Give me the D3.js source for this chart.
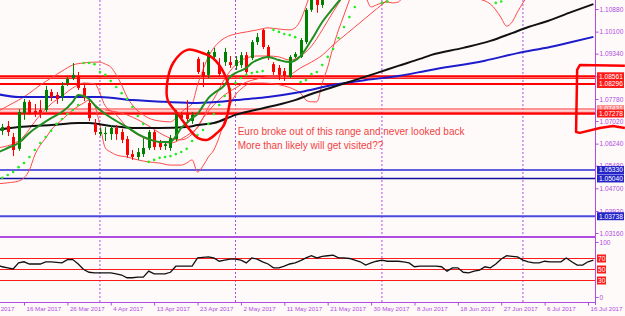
<!DOCTYPE html>
<html>
<head>
<meta charset="utf-8">
<script src="https://cdn.jsdelivr.net/npm/d3@7"></script>
<style>
  body { margin: 0; background: #fffafa; }
  svg { display: block; }
  text { font-family: "Liberation Sans", Arial, sans-serif; }
</style>
</head>
<body>
<div class="chart"></div>
<script>
// EURUSD daily, bar index 0 = 10 Mar 2017 (one bar per day, Saturdays skipped)
// [open, high, low, close]
const candles = [
  [1.0664, 1.0699, 1.0657, 1.0685], [1.0668, 1.0692, 1.0654, 1.0681], [1.0685, 1.0702, 1.0650, 1.0664],
  [1.0647, 1.0661, 1.0581, 1.0602], [1.0606, 1.0743, 1.0599, 1.0733], [1.0730, 1.0778, 1.0706, 1.0768],
  [1.0768, 1.0774, 1.0723, 1.0730], [1.0737, 1.0761, 1.0716, 1.0730], [1.0740, 1.0774, 1.0712, 1.0730],
  [1.0740, 1.0823, 1.0733, 1.0809], [1.0802, 1.0812, 1.0771, 1.0785], [1.0792, 1.0802, 1.0761, 1.0778],
  [1.0785, 1.0836, 1.0771, 1.0823], [1.0833, 1.0854, 1.0823, 1.0847], [1.0850, 1.0902, 1.0843, 1.0861],
  [1.0857, 1.0871, 1.0809, 1.0816], [1.0816, 1.0826, 1.0771, 1.0781], [1.0764, 1.0774, 1.0702, 1.0712],
  [1.0692, 1.0709, 1.0654, 1.0664], [1.0657, 1.0678, 1.0650, 1.0664], [1.0657, 1.0681, 1.0633, 1.0661],
  [1.0657, 1.0688, 1.0637, 1.0678], [1.0678, 1.0688, 1.0637, 1.0657], [1.0664, 1.0675, 1.0626, 1.0637],
  [1.0640, 1.0650, 1.0575, 1.0585], [1.0588, 1.0602, 1.0568, 1.0578], [1.0578, 1.0609, 1.0568, 1.0595],
  [1.0588, 1.0643, 1.0578, 1.0609], [1.0609, 1.0671, 1.0602, 1.0664], [1.0664, 1.0671, 1.0602, 1.0612],
  [1.0626, 1.0637, 1.0602, 1.0612], [1.0616, 1.0633, 1.0602, 1.0622], [1.0609, 1.0654, 1.0599, 1.0643],
  [1.0640, 1.0740, 1.0633, 1.0730], [1.0723, 1.0733, 1.0702, 1.0712], [1.0726, 1.0774, 1.0699, 1.0709],
  [1.0702, 1.0733, 1.0692, 1.0723], [1.0916, 1.0923, 1.0864, 1.0871], [1.0871, 1.0905, 1.0819, 1.0854],
  [1.0861, 1.0947, 1.0850, 1.0940], [1.0923, 1.0954, 1.0912, 1.0940], [1.0892, 1.0919, 1.0854, 1.0864],
  [1.0905, 1.0954, 1.0892, 1.0940], [1.0905, 1.0926, 1.0885, 1.0895], [1.0892, 1.0926, 1.0878, 1.0912],
  [1.0895, 1.0940, 1.0885, 1.0929], [1.0929, 1.0940, 1.0864, 1.0871], [1.0919, 1.0981, 1.0912, 1.0974],
  [1.0974, 1.1005, 1.0964, 1.0991], [1.1016, 1.1019, 1.0950, 1.0957], [1.0957, 1.0964, 1.0912, 1.0919],
  [1.0898, 1.0905, 1.0861, 1.0871], [1.0885, 1.0895, 1.0843, 1.0861], [1.0874, 1.0885, 1.0840, 1.0857],
  [1.0854, 1.0929, 1.0850, 1.0923], [1.0923, 1.0940, 1.0919, 1.0933], [1.0923, 1.0988, 1.0919, 1.0981],
  [1.0974, 1.1091, 1.0967, 1.1085], [1.1085, 1.1153, 1.1078, 1.1136], [1.1160, 1.1175, 1.1075, 1.1102],
  [1.1102, 1.1212, 1.1092, 1.1207]
];

// moving averages, read at [bar, price]
const maGreen = [[0,1.0592],[2,1.0609],[4,1.0626],[6,1.0661],[8,1.0688],[10,1.0712],[12,1.0733],[14,1.0768],
  [15,1.0792],[16,1.0788],[17,1.0778],[18,1.0757],[20,1.0726],[22,1.0702],[24,1.0681],[26,1.0657],[28,1.0640],
  [30,1.0630],[32,1.0630],[33,1.0650],[34,1.0678],[35,1.0695],[36,1.0712],[37,1.0726],[38,1.0754],[39,1.0781],
  [40,1.0798],[42,1.0826],[43,1.0854],[44,1.0867],[46,1.0885],[47,1.0902],[48,1.0912],[50,1.0923],[52,1.0912],
  [54,1.0905],[56,1.0926],[58,1.0981],[60,1.1043],[62,1.1091],[64,1.1136]];
const maBlack = [[0,1.0671],[4,1.0681],[10,1.0688],[15,1.0695],[17,1.0695],[21,1.0685],[25,1.0678],[30,1.0678],
  [35,1.0681],[37,1.0688],[40,1.0695],[44,1.0723],[50,1.0750],[55,1.0774],[58,1.0795],[62,1.0819],[66,1.0843],
  [70,1.0867],[74,1.0892],[78,1.0916],[80,1.0929],[86,1.0954],[91,1.0978],[95,1.1005],[98,1.1026],[101,1.1043],
  [106,1.1078],[110,1.1105]];
const maBlue = [[0,1.0795],[4,1.0785],[10,1.0785],[15,1.0785],[19,1.0785],[25,1.0774],[31,1.0768],[37,1.0764],
  [41,1.0768],[44,1.0774],[50,1.0785],[56,1.0802],[62,1.0826],[68,1.0843],[74,1.0857],[80,1.0878],[90,1.0910],
  [96,1.0936],[102,1.0957],[106,1.0974],[110,1.0992]];

// bollinger bands
const bbUpper = [[0,1.0733],[2,1.0754],[4,1.0774],[6,1.0798],[8,1.0826],[10,1.0850],[12,1.0874],[14,1.0895],
  [16,1.0902],[18,1.0905],[19,1.0905],[20,1.0898],[21,1.0888],[22,1.0861],[23,1.0826],[24,1.0785],[25,1.0757],
  [26,1.0737],[27,1.0723],[28,1.0712],[30,1.0702],[32,1.0699],[33,1.0712],[34,1.0733],[35,1.0747],[36,1.0761],
  [37,1.0826],[38,1.0878],[39,1.0923],[40,1.0954],[41,1.0974],[42,1.0988],[44,1.1002],[46,1.1009],[48,1.1016],
  [50,1.1023],[52,1.1019],[54,1.1016],[55,1.1023],[56,1.1050],[57,1.1098],[58,1.1153]];
const bbMiddle = [[0,1.0609],[4,1.0633],[8,1.0723],[10,1.0761],[12,1.0788],[14,1.0816],[16,1.0833],[18,1.0830],
  [20,1.0754],[22,1.0723],[24,1.0681],[26,1.0654],[28,1.0637],[30,1.0630],[32,1.0626],[34,1.0640],[36,1.0664],
  [37,1.0678],[38,1.0712],[39,1.0750],[40,1.0778],[42,1.0847],[44,1.0895],[46,1.0919],[48,1.0926],[50,1.0926],
  [52,1.0923],[54,1.0912],[56,1.0926],[58,1.0960],[60,1.1016],[62,1.1078],[64,1.1136]];
const bbLower = [[0,1.0485],[2,1.0489],[4,1.0495],[5,1.0506],[6,1.0533],[7,1.0585],[8,1.0619],[9,1.0643],
  [10,1.0671],[12,1.0706],[14,1.0740],[16,1.0764],[17,1.0774],[18,1.0757],[19,1.0688],[20,1.0609],[21,1.0595],
  [22,1.0585],[24,1.0578],[26,1.0568],[28,1.0561],[30,1.0557],[32,1.0550],[34,1.0550],[35,1.0557],[36,1.0568],
  [37,1.0526],[38,1.0547],[39,1.0578],[40,1.0602],[41,1.0647],[42,1.0706],[43,1.0757],[44,1.0792],[45,1.0812],
  [46,1.0826],[47,1.0833],[49,1.0833],[51,1.0830],[53,1.0823],[55,1.0809],[56,1.0798],[57,1.0774],[58,1.0768],
  [59,1.0768],[60,1.0833],[61,1.0888],[62,1.0957],[63,1.1016],[64,1.1067],[65,1.1119],[66,1.1171]];
const bbLower2 = [[68,1.1136],[69,1.1095],[70,1.1102],[71,1.1109],[72,1.1112],[73,1.1109],[74,1.1112],[75,1.1136]];
const bbLower3 = [[88,1.1136],[89,1.1122],[90,1.1116],[91,1.1105],[92,1.1085],[93,1.1057],[94,1.1029],
  [95,1.1043],[96,1.1078],[97,1.1109],[98,1.1136]];
const redMa = [[20,1.0740],[24,1.0723],[28,1.0685],[30,1.0661],[32,1.0643],[34,1.0637],[36,1.0657],[38,1.0712],
  [40,1.0757],[42,1.0792],[44,1.0816],[46,1.0836],[48,1.0847],[50,1.0854],[52,1.0854],[54,1.0861],[56,1.0885],
  [58,1.0905],[60,1.0929],[62,1.0964],[64,1.0995],[66,1.1026],[68,1.1057],[70,1.1088],[72,1.1119],[73,1.1136]];

// parabolic SAR
const sar = [[0,1.0495],[1,1.0506],[2,1.0516],[3,1.0526],[4,1.0543],[5,1.0557],[6,1.0578],[7,1.0602],[8,1.0626],
  [9,1.0647],[10,1.0668],[11,1.0692],[12,1.0709],[13,1.0726],[14,1.0740],[15,1.0757],[16,1.0902],[17,1.0902],
  [18,1.0898],[19,1.0871],[20,1.0861],[21,1.0840],[22,1.0819],[23,1.0798],[24,1.0778],[25,1.0750],[26,1.0719],
  [27,1.0692],[28,1.0561],[29,1.0568],[30,1.0575],[31,1.0578],[32,1.0581],[33,1.0588],[34,1.0595],[35,1.0606],
  [36,1.0633],[37,1.0654],[38,1.0671],[39,1.0692],[40,1.0726],[41,1.0757],[42,1.0788],[43,1.0812],[44,1.0833],
  [45,1.0850],[46,1.0861],[47,1.0867],[48,1.0871],[49,1.0874],[51,1.1016],[52,1.1009],[53,1.1002],[54,1.0998],
  [55,1.0991],[56,1.0836],[57,1.0843],[58,1.0864],[59,1.0871],[60,1.0895],[61,1.0923],[62,1.0950],[63,1.0988],
  [64,1.1026],[65,1.1060],[66,1.1095],[71,1.1109],[72,1.1114],[92,1.1109],[93,1.1114]];

// RSI, one value per bar
const rsi = [58,55,53,51,62,64,60,60,60,64,64,63,62,68,68,60,50,45,44,44,44,44,42,40,35,35,36,36,47,42,
  42,42,45,56,56,56,56,71,72,73,71,65,67,69,69,67,62,71,69,64,60,53,53,56,60,62,66,71,75,71,
  74,75,76,71,71,70,67,64,58,62,65,67,65,65,65,64,62,55,56,56,56,56,55,47,53,53,45,44,47,49,
  55,53,60,69,75,74,73,67,64,62,62,65,64,64,64,71,64,58,58,64,67];
const rsiLevels = [70, 50, 30];

// horizontal levels
const levels = [
  { price: 1.08561, color: "#ff0000", width: 2, label: "1.08561", box: "#ff1a1a" },
  { price: 1.0849, color: "#ff2020", width: 1.5 },
  { price: 1.08296, color: "#ff0000", width: 2, label: "1.08296", box: "#ff1a1a" },
  { price: 1.07431, color: "#ff7070", width: 1.5, label: "1.07431", box: "#ff8a8a" },
  { price: 1.0736, color: "#ff9a9a", width: 1 },
  { price: 1.07278, color: "#ff0000", width: 2.5, label: "1.07278", box: "#ff1a1a" },
  { price: 1.05330, color: "#2b2bd6", width: 1.5, label: "1.05330", box: "#2424c8" },
  { price: 1.05040, color: "#10109e", width: 1.5, label: "1.05040", box: "#2424c8" },
  { price: 1.03738, color: "#4a4ae0", width: 2, label: "1.03738", box: "#2424c8" }
];

const priceTicks = [1.10880, 1.10100, 1.09340, 1.08560, 1.07780, 1.07020, 1.06240, 1.05480, 1.04700, 1.03920, 1.03160];
const dateTickBars = [-3, 5, 13, 21, 29, 37, 45, 53, 61, 69, 77, 85, 93, 101, 109];
const dateTickLabels = ["7 Mar 2017", "16 Mar 2017", "26 Mar 2017", "4 Apr 2017", "13 Apr 2017", "23 Apr 2017",
  "2 May 2017", "11 May 2017", "21 May 2017", "30 May 2017", "8 Jun 2017", "18 Jun 2017", "27 Jun 2017",
  "6 Jul 2017", "16 Jul 2017"];
const monthStartBars = [19, 44, 71, 97];

// hand drawn marks, [bar, price]
const circleMark = [[35.1,1.0947],[37.4,1.0940],[39.8,1.0919],[41.9,1.0866],[43.0,1.0792],[42.7,1.0740],
  [41.8,1.0685],[40.6,1.0661],[38.8,1.0637],[37.1,1.0643],[35.6,1.0671],[33.2,1.0730],[31.5,1.0774],
  [31.4,1.0833],[32.5,1.0902]];
const bracketMark = [[115.8,1.0892],[107.5,1.0895],[107.0,1.0878],[106.8,1.0664],[107.5,1.0661],[111.2,1.0678],
  [113.6,1.0685],[115.8,1.0678]];
const noteLines = ["Euro broke out of this range and never looked back", "More than likely will get visited??"];

const w = 625, h = 316;
const axisX = 595.5;
const mainBottom = 237, rsiBottom = 302;
const purple = "#b04ce0";

const x = d3.scaleLinear().domain([5, 109]).range([24, 588]);
const y = d3.scaleLinear().domain([1.0316, 1.1088]).range([233, 9]);
const yr = d3.scaleLinear().domain([0, 100]).range([297, 242]);

const svg = d3.select(".chart").append("svg")
  .attr("width", w).attr("height", h);

svg.append("rect").attr("width", w).attr("height", h).attr("fill", "#fffafa");

const defs = svg.append("defs");
defs.append("clipPath").attr("id", "clipMain")
  .append("rect").attr("x", 0).attr("y", 0).attr("width", axisX).attr("height", mainBottom);
defs.append("clipPath").attr("id", "clipRsi")
  .append("rect").attr("x", 0).attr("y", mainBottom + 1).attr("width", axisX).attr("height", rsiBottom - mainBottom - 1);

/* month separators */
svg.append("g").selectAll("line")
  .data(monthStartBars).enter().append("line")
  .attr("x1", d => x(d)).attr("x2", d => x(d))
  .attr("y1", 0).attr("y2", rsiBottom)
  .attr("stroke", purple).attr("stroke-width", 1)
  .attr("stroke-dasharray", "2,2");

const main = svg.append("g").attr("clip-path", "url(#clipMain)");

/* horizontal levels */
main.selectAll(".level")
  .data(levels).enter().append("line")
  .attr("x1", 0).attr("x2", axisX)
  .attr("y1", d => y(d.price)).attr("y2", d => y(d.price))
  .attr("stroke", d => d.color).attr("stroke-width", d => d.width);

/* bollinger bands */
const line = d3.line().x(d => x(d[0])).y(d => y(d[1])).curve(d3.curveMonotoneX);
[bbUpper, bbMiddle, bbLower, bbLower2, bbLower3, redMa].forEach(s => {
  main.append("path").attr("d", line(s))
    .attr("fill", "none").attr("stroke", "#ff4a4a").attr("stroke-width", 1);
});

/* moving averages */
main.append("path").attr("d", line(maBlue)).attr("fill", "none").attr("stroke", "#1c1ccc").attr("stroke-width", 2);
main.append("path").attr("d", line(maBlack)).attr("fill", "none").attr("stroke", "#111").attr("stroke-width", 2);

/* candles */
const bars = main.append("g").selectAll("g")
  .data(candles).enter().append("g");
bars.append("line")
  .attr("x1", (d, i) => Math.round(x(i)) + 0.5).attr("x2", (d, i) => Math.round(x(i)) + 0.5)
  .attr("y1", d => y(d[1])).attr("y2", d => y(d[2]))
  .attr("stroke", d => d[3] >= d[0] ? "#008000" : "#ff0000").attr("stroke-width", 1);
bars.append("rect")
  .attr("x", (d, i) => Math.round(x(i)) - 1)
  .attr("y", d => y(Math.max(d[0], d[3])))
  .attr("width", 3)
  .attr("height", d => Math.max(1, Math.abs(y(d[0]) - y(d[3]))))
  .attr("fill", d => d[3] >= d[0] ? "#008000" : "#ff0000");

main.append("path").attr("d", line(maGreen)).attr("fill", "none").attr("stroke", "#1f8f1f").attr("stroke-width", 2);

/* parabolic SAR */
main.selectAll(".sar")
  .data(sar).enter().append("circle")
  .attr("cx", d => x(d[0])).attr("cy", d => y(d[1])).attr("r", 1.3)
  .attr("fill", "#1fee1f");

/* hand drawn circle */
main.append("path")
  .attr("d", d3.line().x(d => x(d[0])).y(d => y(d[1])).curve(d3.curveCatmullRomClosed)(circleMark))
  .attr("fill", "none").attr("stroke", "#ff0000").attr("stroke-width", 2.5);

/* note */
svg.append("g").selectAll("text")
  .data(noteLines).enter().append("text")
  .attr("x", x(44.4)).attr("y", (d, i) => y(1.0654) + i * 14)
  .attr("fill", "#f04444")
  .attr("font-size", 10)
  .text(d => d);

/* separator between windows */
svg.append("line").attr("x1", 0).attr("x2", axisX).attr("y1", mainBottom).attr("y2", mainBottom)
  .attr("stroke", purple).attr("stroke-width", 2);

/* RSI window */
const rsiG = svg.append("g").attr("clip-path", "url(#clipRsi)");
rsiG.selectAll(".lvl").data(rsiLevels).enter().append("line")
  .attr("x1", 0).attr("x2", axisX)
  .attr("y1", d => yr(d)).attr("y2", d => yr(d))
  .attr("stroke", "#ff1a1a").attr("stroke-width", 1);
rsiG.append("path")
  .attr("d", d3.line().x((d, i) => x(i)).y(d => yr(d))(rsi))
  .attr("fill", "none").attr("stroke", "#111").attr("stroke-width", 1.3);

/* axes */
svg.append("line").attr("x1", axisX).attr("x2", axisX).attr("y1", 0).attr("y2", rsiBottom + 3)
  .attr("stroke", purple);
svg.append("line").attr("x1", 0).attr("x2", axisX).attr("y1", rsiBottom + 0.5).attr("y2", rsiBottom + 0.5)
  .attr("stroke", purple);

const yAxis = d3.axisRight(y).tickValues(priceTicks).tickSize(3).tickFormat(d => d.toFixed(5));
const ga = svg.append("g").attr("transform", "translate(" + axisX + ",0)").call(yAxis);
ga.select(".domain").remove();

const rAxis = d3.axisRight(yr).tickValues([0, 100]).tickSize(3).tickFormat(d3.format("d"));
const gr = svg.append("g").attr("transform", "translate(" + axisX + ",0)").call(rAxis);
gr.select(".domain").remove();

const xAxis = d3.axisBottom(x).tickValues(dateTickBars).tickSize(3)
  .tickFormat((d, i) => dateTickLabels[i]);
const gx = svg.append("g").attr("transform", "translate(0," + (rsiBottom + 0.5) + ")").call(xAxis);
gx.select(".domain").remove();
gx.selectAll("text").attr("text-anchor", "start").attr("dx", 2).attr("y", 4.5);

svg.selectAll(".tick line").attr("stroke", purple);
svg.selectAll(".tick text").attr("fill", purple)
  .style("font-family", "'Liberation Sans', Arial, sans-serif");
ga.selectAll("text").attr("x", 4).attr("font-size", 6.6);
gr.selectAll("text").attr("x", 4).attr("font-size", 6.6);
gx.selectAll("text").attr("font-size", 6.2);

/* price labels of levels */
const tags = svg.append("g").selectAll("g")
  .data(levels.filter(d => d.label)).enter().append("g");
tags.append("rect")
  .attr("x", axisX + 1.5).attr("y", d => y(d.price) - 4)
  .attr("width", 27).attr("height", 8).attr("fill", d => d.box);
tags.append("text")
  .attr("x", axisX + 3.5).attr("y", d => y(d.price)).attr("dy", "0.35em")
  .attr("fill", "#fff").attr("font-size", 6.6).text(d => d.label);

const rtags = svg.append("g").selectAll("g")
  .data(rsiLevels).enter().append("g");
rtags.append("rect")
  .attr("x", axisX + 1.5).attr("y", d => yr(d) - 4)
  .attr("width", 9).attr("height", 8).attr("fill", "#ff1a1a");
rtags.append("text")
  .attr("x", axisX + 2.5).attr("y", d => yr(d)).attr("dy", "0.35em")
  .attr("fill", "#fff").attr("font-size", 6.6).text(d => d);

/* hand drawn bracket on the right */
svg.append("path")
  .attr("d", d3.line().x(d => x(d[0])).y(d => y(d[1])).curve(d3.curveLinear)(bracketMark))
  .attr("fill", "none").attr("stroke", "#ff0000").attr("stroke-width", 2.5)
  .attr("stroke-linejoin", "round");
</script>
</body>
</html>
